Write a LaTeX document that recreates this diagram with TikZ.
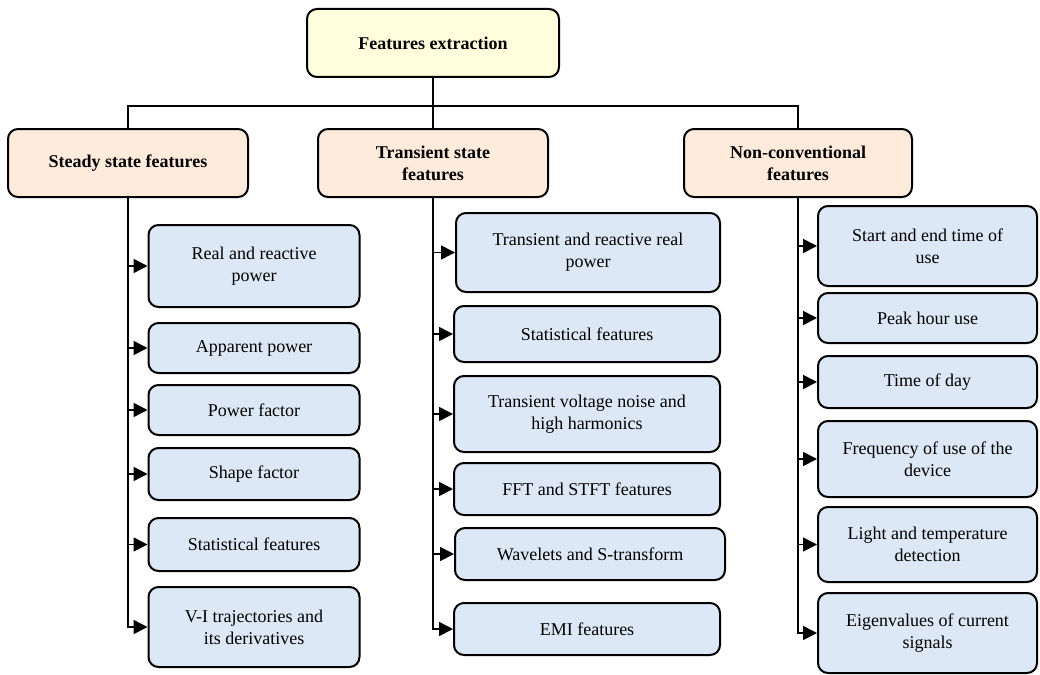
\documentclass[tikz,border=0pt]{standalone}
\usepackage{fontspec}
\setmainfont{Liberation Serif}
\usetikzlibrary{arrows.meta}

\definecolor{rootfill}{HTML}{FFFFDD}
\definecolor{catfill}{HTML}{FFEBDC}
\definecolor{itemfill}{HTML}{DCE8F6}

\begin{document}
\begin{tikzpicture}[x=1pt,y=-1pt,
  box/.style={draw, line width=2pt, rounded corners=10pt, inner sep=0pt, align=center,
    font=\fontsize{18}{22}\selectfont},
  rootbox/.style={box, fill=rootfill, font=\fontsize{18}{22}\selectfont\bfseries},
  catbox/.style={box, fill=catfill, font=\fontsize{18}{22}\selectfont\bfseries},
  itembox/.style={box, fill=itemfill},
  link/.style={line width=1.6pt},
  arr/.style={line width=1.6pt, -{Triangle[length=14pt,width=14pt]}}]

 \useasboundingbox (0,0) rectangle (1040,674);

 % top
 \node[rootbox, minimum width=252pt, minimum height=68pt] (root) at (433,43) {Features extraction};

 % categories
 \node[catbox, minimum width=240pt, minimum height=68pt] (steady) at (128,163) {Steady state features};
 \node[catbox, minimum width=230pt, minimum height=68pt] (trans) at (433,163) {Transient state\\features};
 \node[catbox, minimum width=228pt, minimum height=68pt] (nonconv) at (798,163) {Non-conventional\\features};

 % steady state items
 \node[itembox, minimum width=211pt, minimum height=82pt] (s1) at (254,266) {Real and reactive\\power};
 \node[itembox, minimum width=211pt, minimum height=50pt] (s2) at (254,348) {Apparent power};
 \node[itembox, minimum width=211pt, minimum height=50pt] (s3) at (254,410) {Power factor};
 \node[itembox, minimum width=211pt, minimum height=52pt] (s4) at (254,474) {Shape factor};
 \node[itembox, minimum width=211pt, minimum height=53pt] (s5) at (254,544.5) {Statistical features};
 \node[itembox, minimum width=211pt, minimum height=80pt] (s6) at (254,627) {V-I trajectories and\\its derivatives};

 % transient state items
 \node[itembox, minimum width=264pt, minimum height=79pt] (t1) at (588,252.5) {Transient and reactive real\\power};
 \node[itembox, minimum width=266pt, minimum height=56pt] (t2) at (587,334) {Statistical features};
 \node[itembox, minimum width=266pt, minimum height=76pt] (t3) at (587,414) {Transient voltage noise and\\high harmonics};
 \node[itembox, minimum width=266pt, minimum height=52pt] (t4) at (587,489) {FFT and STFT features};
 \node[itembox, minimum width=270pt, minimum height=52pt] (t5) at (590,554) {Wavelets and S-transform};
 \node[itembox, minimum width=266pt, minimum height=52pt] (t6) at (587,629) {EMI features};

 % non-conventional items
 \node[itembox, minimum width=219pt, minimum height=80pt] (n1) at (927.5,246) {Start and end time of\\use};
 \node[itembox, minimum width=219pt, minimum height=50pt] (n2) at (927.5,318) {Peak hour use};
 \node[itembox, minimum width=219pt, minimum height=52pt] (n3) at (927.5,382) {Time of day};
 \node[itembox, minimum width=219pt, minimum height=76pt] (n4) at (927.5,459) {Frequency of use of the\\device};
 \node[itembox, minimum width=219pt, minimum height=75pt] (n5) at (927.5,544.5) {Light and temperature\\detection};
 \node[itembox, minimum width=219pt, minimum height=80pt] (n6) at (927.5,633) {Eigenvalues of current\\signals};

 % bus
 \coordinate (bus) at (0,106);
 \draw[link] (root.south) -- (trans.north);
 \draw[link] (steady.north) |- (bus -| nonconv.north) -- (nonconv.north);

 % steady state arrows
 \draw[arr] (s1.west -| steady.south) -- (s1.west);
 \draw[arr] (s2.west -| steady.south) -- (s2.west);
 \draw[arr] (s3.west -| steady.south) -- (s3.west);
 \draw[arr] (s4.west -| steady.south) -- (s4.west);
 \draw[arr] (s5.west -| steady.south) -- (s5.west);
 \draw[arr] (steady.south) |- (s6.west);

 % transient state arrows
 \draw[arr] (t1.west -| trans.south) -- (t1.west);
 \draw[arr] (t2.west -| trans.south) -- (t2.west);
 \draw[arr] (t3.west -| trans.south) -- (t3.west);
 \draw[arr] (t4.west -| trans.south) -- (t4.west);
 \draw[arr] (t5.west -| trans.south) -- (t5.west);
 \draw[arr] (trans.south) |- (t6.west);

 % non-conventional arrows
 \draw[arr] (n1.west -| nonconv.south) -- (n1.west);
 \draw[arr] (n2.west -| nonconv.south) -- (n2.west);
 \draw[arr] (n3.west -| nonconv.south) -- (n3.west);
 \draw[arr] (n4.west -| nonconv.south) -- (n4.west);
 \draw[arr] (n5.west -| nonconv.south) -- (n5.west);
 \draw[arr] (nonconv.south) |- (n6.west);
\end{tikzpicture}
\end{document}
